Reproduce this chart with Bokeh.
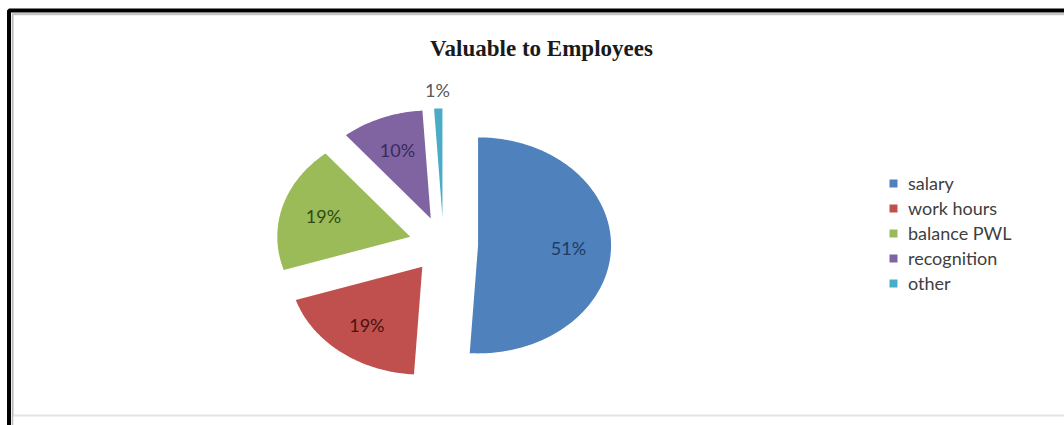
import numpy as np
from bokeh.plotting import figure
from bokeh.models import ColumnDataSource, Range1d, Legend, LegendItem, Label, BoxAnnotation
from bokeh.core.properties import value
from bokeh.embed import file_html
from bokeh.resources import INLINE

# ---- data ----
chart_title = "Valuable to Employees"
categories = ["salary", "work hours", "balance PWL", "recognition", "other"]
percents = [51, 19, 19, 10, 1]
colors = ["#4F81BD", "#C0504D", "#9BBB59", "#8064A2", "#4BACC6"]
label_colors = ["#1F3A66", "#4A1212", "#2E4A12", "#3A2A5E", "#595959"]

# ---- layout ----
W, H = 1064, 425
cx, cy = 443, 244          # pie centre (pixels from top-left)
rx, ry = 133, 108          # pie radius in pixels (horizontal, vertical)
explode = 0.26

p = figure(width=W, height=H, output_backend="svg", toolbar_location=None,
           x_range=Range1d(-cx / rx, (W - cx) / rx),
           y_range=Range1d(-(H - cy) / ry, cy / ry),
           x_axis_location=None, y_axis_location=None, min_border=0)
p.grid.visible = False
p.outline_line_color = None
p.background_fill_color = "white"
p.border_fill_color = "white"

def dx(px):
    return (px - cx) / rx

def dy(py):
    return (cy - py) / ry

# chart frame
p.add_layout(BoxAnnotation(left=dx(12.5), top=dy(14), right=dx(W + 30), bottom=dy(415),
                           fill_alpha=0, line_color="#e4e4e4", line_alpha=1, line_width=2))
p.add_layout(BoxAnnotation(left=dx(12), top=dy(13.5), right=dx(W + 30), bottom=dy(H + 30),
                           fill_alpha=0, line_color="#b8b8b8", line_alpha=1, line_width=1.5))
p.add_layout(BoxAnnotation(left=dx(8.5), top=dy(10), right=dx(W + 30), bottom=dy(H + 30),
                           fill_alpha=0, line_color="black", line_alpha=1, line_width=4))

# ---- slices ----
total = float(sum(percents))
xs, ys, lx, ly, texts = [], [], [], [], []
start = 0.0
for v in percents:
    a0 = 2 * np.pi * start / total
    a1 = 2 * np.pi * (start + v) / total
    mid = (a0 + a1) / 2
    ox, oy = explode * np.sin(mid), explode * np.cos(mid)
    t = np.linspace(a0, a1, max(6, int(v * 4)))
    xs.append([ox] + list(ox + np.sin(t)))
    ys.append([oy] + list(oy + np.cos(t)))
    f = 0.68 if v / total >= 0.05 else 1.17
    lx.append(ox + f * np.sin(mid))
    ly.append(oy + f * np.cos(mid))
    texts.append(f"{v}%")
    start += v

src = ColumnDataSource(dict(xs=xs, ys=ys, color=colors, cat=categories))
r = p.patches("xs", "ys", fill_color="color", line_color=None, source=src)

lsrc = ColumnDataSource(dict(x=lx, y=ly, text=texts, tc=label_colors))
p.text("x", "y", text="text", source=lsrc, text_align="center", text_baseline="middle",
       text_font=value("Lato"), text_font_size="18px", text_color="tc")

# ---- title ----
p.add_layout(Label(x=dx(541), y=dy(48), text=chart_title, text_align="center",
                   text_baseline="middle", text_font="Liberation Serif",
                   text_font_style="bold", text_font_size="23px", text_color="#1a1a1a"))

# ---- legend ----
items = [LegendItem(label=c, renderers=[r], index=i) for i, c in enumerate(categories)]
legend = Legend(items=items, location=(888, 131), orientation="vertical",
                glyph_width=10, glyph_height=10, label_standoff=10, spacing=3,
                label_height=18, padding=0, margin=0, border_line_color=None,
                background_fill_alpha=0, label_text_font="Lato",
                label_text_font_size="18px", label_text_color="#404040")
p.add_layout(legend)

open("out.html", "w").write(file_html(p, INLINE))
